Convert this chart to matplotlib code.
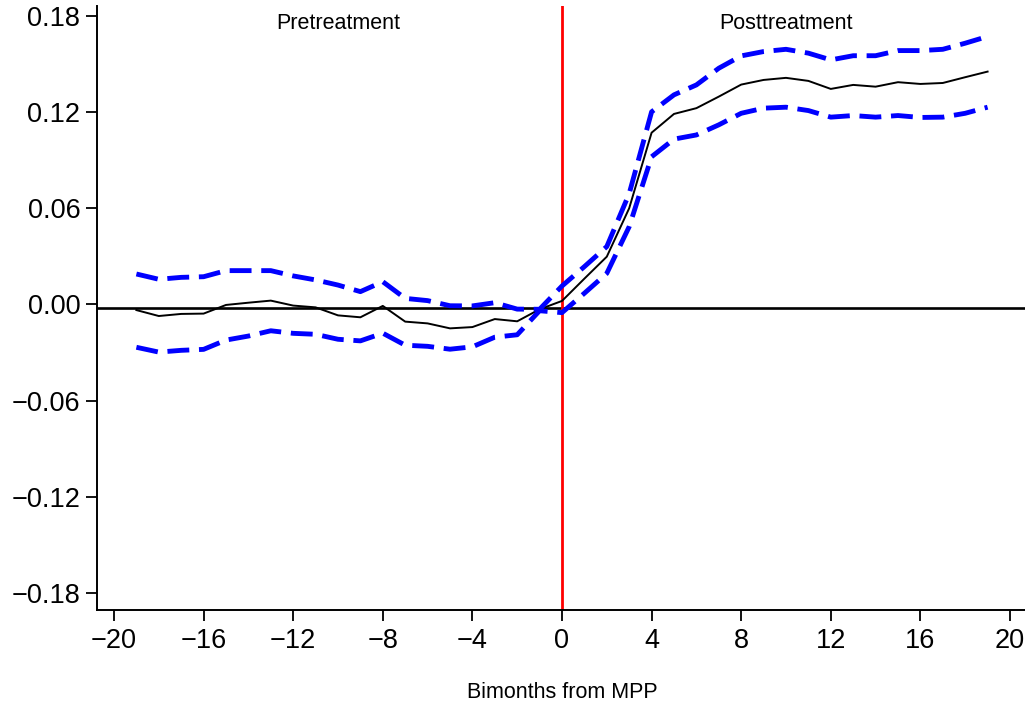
import numpy as np
import matplotlib
matplotlib.use('Agg')
import matplotlib.pyplot as plt
import matplotlib.transforms as mtransforms

plt.rcParams['font.family'] = ['Liberation Sans', 'DejaVu Sans']

# bimonths relative to MPP
bimonths = list(range(-19, 20))

# point estimates
estimate = [-0.0036, -0.0073, -0.0060, -0.0058, -0.0004, 0.0010, 0.0023, -0.0008, -0.0019, -0.0069,
            -0.0081, -0.0010, -0.0108, -0.0119, -0.0150, -0.0142, -0.0092, -0.0106, -0.0031,
            0.0021, 0.0160, 0.0297, 0.0599, 0.1070, 0.1187, 0.1223, 0.1295, 0.1370,
            0.1399, 0.1412, 0.1393, 0.1343, 0.1368, 0.1357, 0.1385, 0.1374, 0.1380, 0.1416, 0.1451]

# confidence bands
upper = [0.0189, 0.0156, 0.0168, 0.0172, 0.0210, 0.0210, 0.0210, 0.0177, 0.0152, 0.0120,
         0.0079, 0.0141, 0.0037, 0.0023, -0.0009, -0.0010, 0.0010, -0.0030, -0.0031,
         0.0114, 0.0235, 0.0360, 0.0690, 0.1200, 0.1306, 0.1368, 0.1472, 0.1549,
         0.1576, 0.1590, 0.1566, 0.1524, 0.1550, 0.1550, 0.1582, 0.1582, 0.1590, 0.1628, 0.1670]
lower = [-0.0268, -0.0298, -0.0287, -0.0281, -0.0223, -0.0198, -0.0165, -0.0181, -0.0187, -0.0218,
         -0.0228, -0.0180, -0.0255, -0.0262, -0.0280, -0.0265, -0.0205, -0.0190, -0.0040,
         -0.0052, 0.0069, 0.0193, 0.0484, 0.0920, 0.1030, 0.1056, 0.1119, 0.1191,
         0.1223, 0.1229, 0.1208, 0.1167, 0.1177, 0.1167, 0.1177, 0.1165, 0.1167, 0.1191, 0.1229]

ref_level = -0.0025
xticks = list(range(-20, 21, 4))
yticks = [-0.18, -0.12, -0.06, 0.0, 0.06, 0.12, 0.18]

fig = plt.figure(figsize=(10.25, 7.06), dpi=100)
ax = fig.add_axes([0.0946, 0.136, 0.9054, 0.8555])

ax.axhline(ref_level, color='black', lw=1.9, zorder=2)
ax.axvline(0, color='red', lw=2, zorder=2)
ax.plot(bimonths, estimate, color='black', lw=1.4, zorder=3)
ax.plot(bimonths, upper, color='blue', lw=3.5, dashes=(4.5, 2), zorder=3)
ax.plot(bimonths, lower, color='blue', lw=3.5, dashes=(4.5, 2), zorder=3)

ax.set_xlim(-20.76, 20.67)
ax.set_ylim(-0.1906, 0.186)
ax.set_xticks(xticks)
ax.set_yticks(yticks)
ax.set_yticklabels(['{:.2f}'.format(v).replace('-', '\u2212') for v in yticks])
ax.set_xticklabels([str(v).replace('-', '\u2212') for v in xticks])
ax.tick_params(labelsize=19.5, length=8, width=1.3, colors='black')
ax.tick_params(axis='x', pad=5)
ax.tick_params(axis='y', pad=4)

for side in ['top', 'right']:
    ax.spines[side].set_visible(False)
for side in ['left', 'bottom']:
    ax.spines[side].set_linewidth(1.4)

ax.text(-10, 0.1754, 'Pretreatment', ha='center', va='center', fontsize=15.5)
ax.text(10, 0.1754, 'Posttreatment', ha='center', va='center', fontsize=15.5)

# x title sits under x = 0 in the original
trans = mtransforms.blended_transform_factory(ax.transData, fig.transFigure)
fig.text(0, 0.0198, 'Bimonths from MPP', ha='center', va='center', fontsize=15.5,
         transform=trans)

fig.savefig('out.png', dpi=100)
